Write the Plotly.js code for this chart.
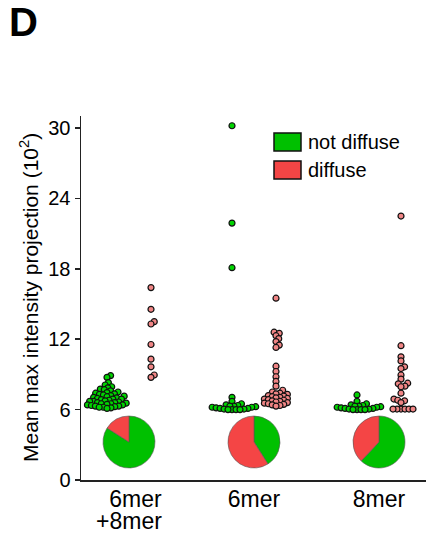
<!DOCTYPE html>
<html>
<head>
<meta charset="utf-8">
<script src="https://cdn.plot.ly/plotly-3.0.1.min.js"></script>
<style>
html,body{margin:0;padding:0;background:#fff;}
#chart{width:426px;height:533px;}
</style>
</head>
<body>
<div id="chart"></div>
<script>
// ---------- data ----------
const categories = ["6mer+8mer", "6mer", "8mer"];
const tickLabels = ["&nbsp;&nbsp;6mer", "6mer", "8mer"];
const tickLabelSecondLine = ["+8mer", "", ""];
const seriesNames = ["not diffuse", "diffuse"];
const yTitle = "Mean max intensity projection (10<sup>2</sup>)";

const notDiffuse_6mer8mer = [8.9, 8.75, 8.3, 8.1, 7.95, 7.85, 7.75, 7.7, 7.6, 7.5, 7.45, 7.4, 7.35, 7.3, 7.25, 7.2, 7.15, 7.1, 7.05, 7.0, 6.95, 6.9, 6.9, 6.85, 6.8, 6.75, 6.7, 6.7, 6.65, 6.6, 6.6, 6.55, 6.5, 6.5, 6.45, 6.4, 6.4, 6.35, 6.3, 6.3, 6.25, 6.2, 6.2, 6.15, 6.1];
const diffuse_6mer8mer = [16.4, 14.55, 13.5, 13.3, 11.55, 10.3, 9.65, 8.95, 8.75];

const notDiffuse_6mer = [30.2, 21.9, 18.1, 7.05, 6.7, 6.5, 6.4, 6.35, 6.3, 6.3, 6.25, 6.2, 6.2, 6.15, 6.1, 6.1, 6.05, 6.05, 6.0, 6.0, 6.0, 6.0];
const diffuse_6mer = [15.5, 12.6, 12.5, 12.3, 12.05, 11.8, 11.5, 11.3, 9.7, 9.25, 8.8, 8.4, 8.0, 7.65, 7.5, 7.4, 7.35, 7.3, 7.2, 7.15, 7.1, 7.05, 7.0, 6.95, 6.9, 6.85, 6.8, 6.75, 6.7, 6.65, 6.6, 6.55, 6.5, 6.45, 6.4, 6.35, 6.3];

const notDiffuse_8mer = [7.25, 6.7, 6.5, 6.4, 6.35, 6.3, 6.3, 6.25, 6.2, 6.2, 6.15, 6.1, 6.1, 6.05, 6.05, 6.0, 6.0, 6.0, 6.0];
const diffuse_8mer = [22.5, 11.45, 10.5, 10.15, 9.65, 9.5, 8.95, 8.6, 8.25, 8.2, 8.0, 7.95, 7.4, 6.9, 6.8, 6.75, 6.6, 6.05, 6.05, 6.05, 6.05, 6.05, 6.05];

const pieNotDiffusePct = [84, 41, 62];
const pieDiffusePct = [16, 59, 38];

const yTicks = [0, 6, 12, 18, 24, 30];

// ---------- layout constants ----------
const W = 426, H = 533;
const M = {l: 81, r: 0, t: 116, b: 53};
const plotW = W - M.l - M.r, plotH = H - M.t - M.b;
const xRange = [0.616, 3.376];
const yRange = [0, 31.03];
const pxPerX = plotW / (xRange[1] - xRange[0]);
const pxPerY = plotH / (yRange[1] - yRange[0]);
const catPos = [1, 2, 3];
const sideOffsetPx = [-22, 22];
const DOT = 6, MIN_DIST = 4.0;

const GREEN_DOT = "#00d400", PINK_DOT = "#f08585";
const GREEN = "#00c000", RED = "#f44545";
const FONT = "Liberation Sans, Arial, sans-serif";

function beeswarm(values, centerX) {
  const order = values.map((v, i) => i).sort((a, b) => values[a] - values[b]);
  const placed = [];
  const xs = new Array(values.length);
  for (const i of order) {
    const y = values[i] * pxPerY;
    const cands = [0];
    for (const p of placed) {
      const dy = y - p.y;
      if (Math.abs(dy) < MIN_DIST) {
        const dx = Math.sqrt(MIN_DIST * MIN_DIST - dy * dy);
        cands.push(p.x + dx, p.x - dx);
      }
    }
    cands.sort((a, b) => Math.abs(a) - Math.abs(b));
    let chosen = 0;
    for (const c of cands) {
      let ok = true;
      for (const p of placed) {
        const dx = c - p.x, dy = y - p.y;
        if (dx * dx + dy * dy < MIN_DIST * MIN_DIST - 0.01) { ok = false; break; }
      }
      if (ok) { chosen = c; break; }
    }
    placed.push({x: chosen, y: y});
    xs[i] = centerX + chosen / pxPerX;
  }
  return xs;
}

const groups = [
  [notDiffuse_6mer8mer, diffuse_6mer8mer],
  [notDiffuse_6mer, diffuse_6mer],
  [notDiffuse_8mer, diffuse_8mer]
];
const dotColors = [GREEN_DOT, PINK_DOT];

const traces = [];
groups.forEach((g, gi) => {
  g.forEach((vals, si) => {
    const cx = catPos[gi] + sideOffsetPx[si] / pxPerX;
    traces.push({
      type: "scatter", mode: "markers",
      name: seriesNames[si] + " " + categories[gi],
      x: beeswarm(vals, cx), y: vals,
      marker: {size: DOT, color: dotColors[si], line: {color: "#111", width: 1.2}},
      showlegend: false, hoverinfo: "y"
    });
  });
});

// pies
const PIE_R = 26, PIE_CY = 442;
catPos.forEach((c, i) => {
  const cxPx = M.l + (c - xRange[0]) * pxPerX;
  traces.push({
    type: "pie", sort: false, direction: "clockwise", rotation: 0,
    labels: seriesNames, values: [pieNotDiffusePct[i], pieDiffusePct[i]],
    marker: {colors: [GREEN, RED], line: {color: "#555", width: 0.6}},
    textinfo: "none", hoverinfo: "label+percent", showlegend: false,
    domain: {
      x: [(cxPx - PIE_R - M.l) / plotW, (cxPx + PIE_R - M.l) / plotW],
      y: [(H - M.b - PIE_CY - PIE_R) / plotH, (H - M.b - PIE_CY + PIE_R) / plotH]
    }
  });
});

// legend (drawn as shapes + text)
function px2paperX(px) { return (px - M.l) / plotW; }
function px2paperY(py) { return (H - M.b - py) / plotH; }
const legendColors = [GREEN, RED];
const legendTop = [133, 161];
const shapes = [], annotations = [];
seriesNames.forEach((n, i) => {
  shapes.push({
    type: "rect", xref: "paper", yref: "paper",
    x0: px2paperX(274), x1: px2paperX(301),
    y0: px2paperY(legendTop[i]), y1: px2paperY(legendTop[i] + 18),
    fillcolor: legendColors[i], line: {color: "#111", width: 1.5}
  });
  annotations.push({
    xref: "paper", yref: "paper", x: px2paperX(306), y: px2paperY(legendTop[i] + 9),
    xanchor: "left", yanchor: "middle", showarrow: false, text: n,
    font: {family: FONT, size: 20, color: "#000"}
  });
});
// second line of the first category label
tickLabelSecondLine.forEach((t, i) => {
  if (!t) return;
  annotations.push({
    xref: "x", yref: "paper", x: catPos[i], y: px2paperY(521),
    xanchor: "center", yanchor: "middle", showarrow: false, text: t,
    font: {family: FONT, size: 23, color: "#000"}
  });
});
// y axis title
annotations.push({
  xref: "paper", yref: "paper", x: px2paperX(29), y: px2paperY(298),
  xanchor: "center", yanchor: "middle", textangle: -90, showarrow: false,
  text: yTitle, font: {family: FONT, size: 21, color: "#000"}
});

const layout = {
  width: W, height: H,
  margin: M,
  paper_bgcolor: "#fff", plot_bgcolor: "#fff",
  font: {family: FONT, color: "#000"},
  title: {text: "<b>D</b>", x: 9 / W, xref: "container", xanchor: "left",
          y: 1 - 8 / H, yref: "container", yanchor: "top",
          font: {family: FONT, size: 40, color: "#000"}},
  xaxis: {
    range: xRange, showline: true, linewidth: 1.5, linecolor: "#222",
    showgrid: false, zeroline: false, ticks: "",
    tickmode: "array", tickvals: catPos, ticktext: tickLabels,
    ticklabelstandoff: -2,
    tickfont: {family: FONT, size: 23, color: "#000"}
  },
  yaxis: {
    range: yRange, showline: true, linewidth: 1.5, linecolor: "#222",
    showgrid: false, zeroline: false, ticks: "outside", ticklen: 5, tickwidth: 1.5, tickcolor: "#222",
    tickmode: "array", tickvals: yTicks, ticktext: yTicks.map(String),
    tickfont: {family: FONT, size: 20, color: "#000"}
  },
  shapes: shapes,
  annotations: annotations,
  showlegend: false
};

Plotly.newPlot("chart", traces, layout, {staticPlot: true, displayModeBar: false});
</script>
</body>
</html>
